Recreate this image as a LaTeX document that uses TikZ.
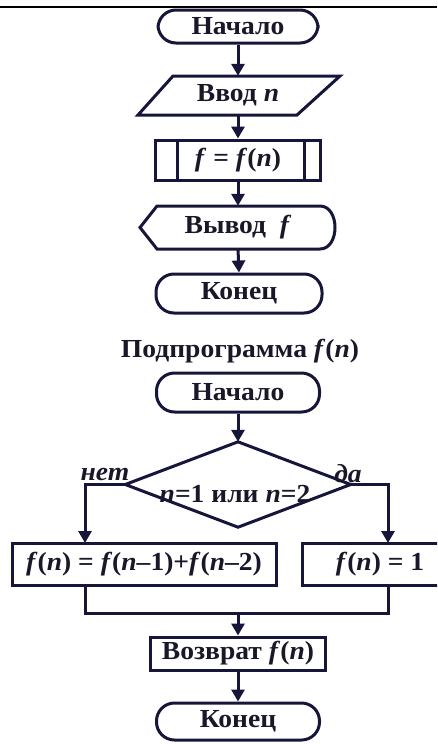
\documentclass[tikz,border=0pt]{standalone}
\usepackage{fontspec}
\setmainfont{Liberation Serif}[FakeStretch=1.06]
\usetikzlibrary{arrows.meta}
\definecolor{ln}{HTML}{16163A}
\definecolor{tx}{HTML}{181828}
\begin{document}
\begin{tikzpicture}[x=1pt,y=-1pt,
  every node/.style={font=\fontsize{26}{30}\selectfont\bfseries, text=tx, inner sep=0pt},
  shp/.style={draw=ln, line width=3pt},
  term/.style={shp, rectangle, rounded corners=18pt, minimum width=163pt, minimum height=36pt},
  boxx/.style={shp, rectangle, minimum height=42pt},
  arr/.style={draw=ln, line width=3pt, -{Triangle[width=13pt,length=12pt]}},
  lin/.style={draw=ln, line width=3pt},
  ghost/.style={rectangle, draw=none}]
\useasboundingbox (0,0) rectangle (437,744);
\clip (0,0) rectangle (437,744);
\draw[line width=2pt, black] (0,7) -- (437,7);
% main program
\node[term, minimum width=160pt, minimum height=33pt] (n1) at (238,26.5) {Начало};
\node[ghost, minimum width=160pt, minimum height=39pt] (in) at (238,95.5) {Ввод \textit{n}};
\draw[shp] (173,76) -- (340,76) -- (297,115) -- (138,115) -- cycle;
\node[boxx, minimum width=165pt, minimum height=40pt] (pr) at (238,160) {\textit{f} = \textit{f}(\textit{n})};
\draw[lin] ([xshift=23pt]pr.north west) -- ([xshift=23pt]pr.south west);
\draw[lin] ([xshift=-18pt]pr.north east) -- ([xshift=-18pt]pr.south east);
\node[ghost, minimum width=180pt, minimum height=43pt] (out) at (238,227.5) {Вывод \ \textit{f}};
\draw[shp] (157,206) -- (320,206) .. controls (340,206) and (340,249) .. (320,249) -- (157,249) -- (140,227.5) -- cycle;
\node[term, minimum width=166pt, minimum height=39pt] (e1) at (239,293.5) {Конец};
\draw[arr] (n1.south) -- (in.north);
\draw[arr] (in.south) -- (pr.north);
\draw[arr] (pr.south) -- (out.north);
\draw[arr] (out.south) -- (e1.north);
% subprogram
\node (title) at (240,351) {Подпрограмма \textit{f}(\textit{n})};
\node[term, minimum width=163pt, minimum height=39pt] (n2) at (238,392.5) {Начало};
\node[ghost, minimum width=225pt, minimum height=85pt] (dia) at (238,484.5) {};
\draw[shp] (dia.north) -- (dia.east) -- (dia.south) -- (dia.west) -- cycle;
\node (dt) at (235,494) {\textit{n}=1 или \textit{n}=2};
\node (no) at (105,474) {\textit{нет}};
\node (yes) at (348,474) {\textit{да}};
\draw[arr] (n2.south) -- (dia.north);
\node[boxx, minimum width=264pt] (lb) at (144,564) {\textit{f}(\textit{n}) = \textit{f}(\textit{n}–1)+\textit{f}(\textit{n}–2)};
\node[boxx, minimum width=156pt] (rb) at (380,564) {\textit{f}(\textit{n}) = 1};
\coordinate (lbin) at (85,543);
\coordinate (rbin) at (388,543);
\draw[arr] (dia.west) -| (lbin);
\draw[arr] (dia.east) -| (rbin);
\coordinate (lbout) at (85,585);
\coordinate (rbout) at (388,585);
\coordinate (mg) at (238,613);
\draw[lin] (lbout) |- (mg) -| (rbout);
\node[boxx, minimum width=175pt, minimum height=33pt] (ret) at (238,653.5) {Возврат \textit{f}(\textit{n})};
\draw[arr] (mg) -- (ret.north);
\node[term, minimum width=163pt, minimum height=37pt] (e2) at (238,721.5) {Конец};
\draw[arr] (ret.south) -- (e2.north);
\end{tikzpicture}
\end{document}
